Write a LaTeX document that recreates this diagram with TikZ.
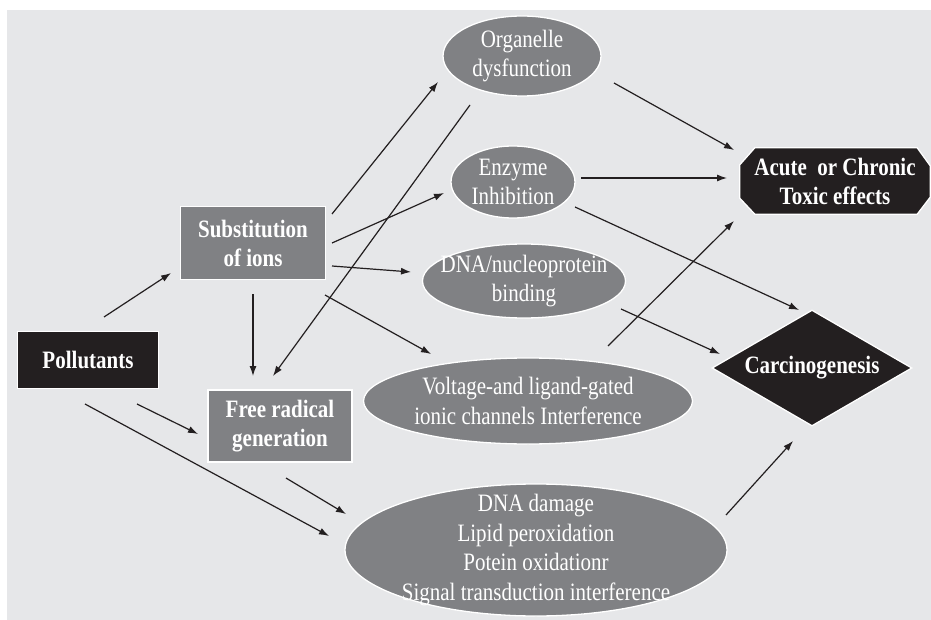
\documentclass[tikz,border=0pt]{standalone}
\usepackage{fontspec}
\setmainfont[FakeStretch=0.84]{Liberation Serif}
\usetikzlibrary{shapes.geometric,arrows.meta}
\definecolor{bgc}{RGB}{230,231,233}
\definecolor{nodegray}{RGB}{128,129,132}
\definecolor{nodeblack}{RGB}{35,31,32}
\begin{document}
\begin{tikzpicture}[x=1pt,y=-1pt,
  shapebase/.style={draw=white, line width=1.3pt, inner sep=0pt},
  boldtext/.style={text=white, align=center, inner sep=0pt, font=\bfseries\fontsize{25}{29}\selectfont},
  plaintext/.style={text=white, align=center, inner sep=0pt, font=\fontsize{25}{29.5}\selectfont},
  graybox/.style={shapebase, rectangle, fill=nodegray, boldtext},
  blackbox/.style={shapebase, rectangle, fill=nodeblack, boldtext},
  oval/.style={shapebase, ellipse, fill=nodegray},
  arr/.style={draw=nodeblack, line width=1.2pt, -{Latex[length=10pt,width=7pt]}}
]
\useasboundingbox (0,0) rectangle (931,620);
\fill[white] (0,0) rectangle (931,620);
\fill[bgc] (7,10) rectangle (931,620);

% rectangles
\node[blackbox, minimum width=141pt, minimum height=57pt] (poll) at (88,360) {Pollutants};
\node[graybox, minimum width=145pt, minimum height=73pt] (sub) at (253,243) {Substitution\\of ions};
\node[graybox, minimum width=144pt, minimum height=72pt] (free) at (280,426) {Free radical\\generation};

% ellipses
\node[oval, minimum width=158pt, minimum height=80pt] (org) at (522,56) {};
\node[plaintext] (orgtext) at (org) {Organelle\\dysfunction};
\node[oval, minimum width=124pt, minimum height=72pt] (enz) at (513,182) {};
\node[plaintext] (enztext) at (enz) {Enzyme\\Inhibition};
\node[oval, minimum width=203pt, minimum height=74pt] (dnab) at (524,281) {};
\node[plaintext] (dnabtext) at (dnab) {DNA/nucleoprotein\\binding};
\node[oval, minimum width=329pt, minimum height=86pt] (volt) at (528,401) {};
\node[plaintext] (volttext) at (volt) {Voltage-and ligand-gated\\ionic channels Interference};
\node[oval, minimum width=382pt, minimum height=132pt] (dmg) at (536,550) {};
\node[plaintext] (dmgtext) at (dmg) {DNA damage\\Lipid peroxidation\\Potein oxidationr\\Signal transduction interference};

% octagon
\node[inner sep=0pt, minimum width=190pt, minimum height=66pt] (acute) at (835,181) {};
\filldraw[fill=nodeblack, draw=white, line width=1.3pt]
  ([xshift=15pt]acute.north west) -- ([xshift=-13pt]acute.north east)
  -- ([yshift=-18pt]acute.north east) -- ([yshift=17pt]acute.south east)
  -- ([xshift=-13pt]acute.south east) -- ([xshift=15pt]acute.south west)
  -- ([yshift=16pt]acute.south west) -- ([yshift=-17pt]acute.north west) -- cycle;
\node[boldtext] (acutetext) at (acute) {Acute\ \ or Chronic\\Toxic effects};

% diamond
\node[shapebase, diamond, fill=nodeblack, minimum width=200pt, minimum height=116pt] (carc) at (812,368) {};
\node[boldtext] (carctext) at (carc) {Carcinogenesis};

% arrow end points
\coordinate (p1s) at (104,317); \coordinate (p1e) at (171,273);
\coordinate (p2s) at (137,404); \coordinate (p2e) at (198,434);
\coordinate (p3s) at (85,404);  \coordinate (p3e) at (329,536);
\coordinate (s1s) at (253,294); \coordinate (s1e) at (253,376);
\coordinate (s2s) at (332,214); \coordinate (s2e) at (438,82);
\coordinate (s3s) at (332,243); \coordinate (s3e) at (444,193);
\coordinate (s4s) at (332,266); \coordinate (s4e) at (411,272);
\coordinate (s5s) at (325,295); \coordinate (s5e) at (431,354);
\coordinate (o1s) at (470,105); \coordinate (o1e) at (273,376);
\coordinate (f1s) at (286,478); \coordinate (f1e) at (346,514);
\coordinate (o2s) at (614,83);  \coordinate (o2e) at (734,150);
\coordinate (e1s) at (581,178); \coordinate (e1e) at (727,178);
\coordinate (e2s) at (575,207); \coordinate (e2e) at (799,310);
\coordinate (v1s) at (608,346); \coordinate (v1e) at (734,221);
\coordinate (d1s) at (621,309); \coordinate (d1e) at (720,354);
\coordinate (g1s) at (726,515); \coordinate (g1e) at (793,441);

\draw[arr] (p1s) -- (p1e);
\draw[arr] (p2s) -- (p2e);
\draw[arr] (p3s) -- (p3e);
\draw[arr] (s1s) -- (s1e);
\draw[arr] (s2s) -- (s2e);
\draw[arr] (s3s) -- (s3e);
\draw[arr] (s4s) -- (s4e);
\draw[arr] (s5s) -- (s5e);
\draw[arr] (o1s) -- (o1e);
\draw[arr] (f1s) -- (f1e);
\draw[arr] (o2s) -- (o2e);
\draw[arr] (e1s) -- (e1e);
\draw[arr] (e2s) -- (e2e);
\draw[arr] (v1s) -- (v1e);
\draw[arr] (d1s) -- (d1e);
\draw[arr] (g1s) -- (g1e);
\end{tikzpicture}
\end{document}
